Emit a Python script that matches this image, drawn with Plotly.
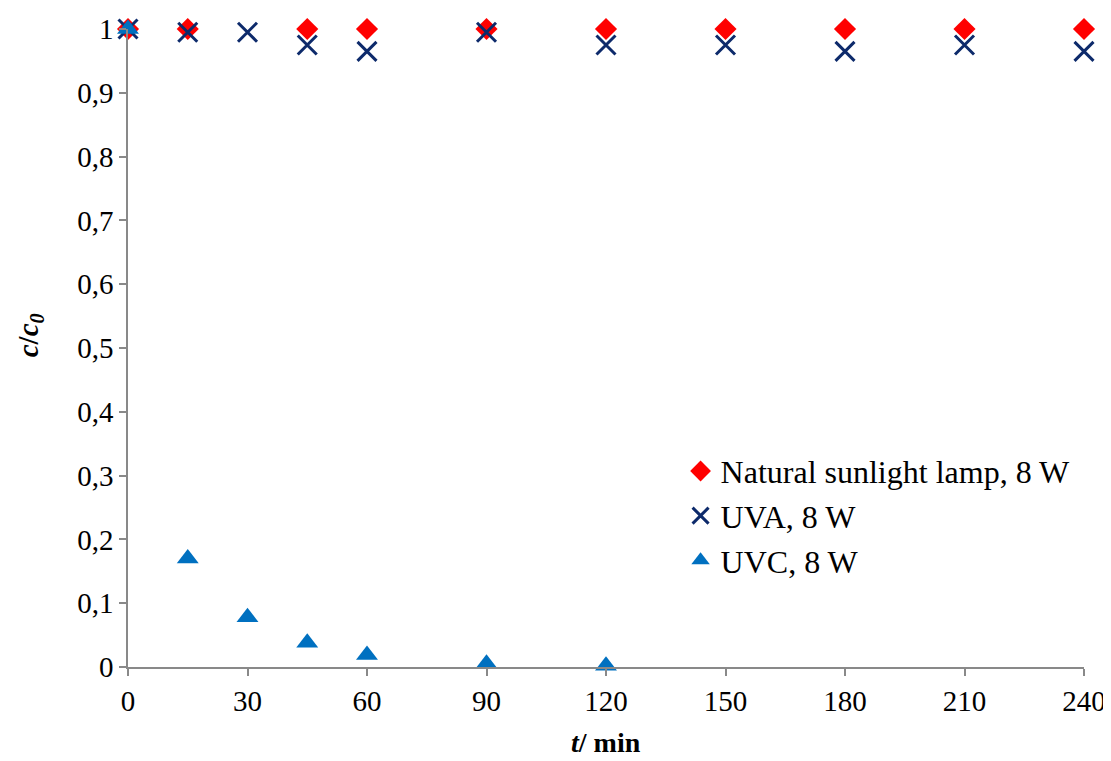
import plotly.graph_objects as go

t_nat = [0, 15, 45, 60, 90, 120, 150, 180, 210, 240]
c_nat = [1.0, 1.0, 1.0, 1.0, 1.0, 1.0, 1.0, 1.0, 1.0, 1.0]

t_uva = [0, 15, 30, 45, 60, 90, 120, 150, 180, 210, 240]
c_uva = [1.0, 0.995, 0.995, 0.975, 0.965, 0.995, 0.975, 0.975, 0.965, 0.975, 0.965]

t_uvc = [0, 15, 30, 45, 60, 90, 120]
c_uvc = [1.0, 0.17, 0.078, 0.038, 0.019, 0.005, 0.002]

x_ticks = [0, 30, 60, 90, 120, 150, 180, 210, 240]

FONT = "Liberation Serif, Times New Roman, serif"

fig = go.Figure()
fig.add_trace(go.Scatter(x=t_nat, y=c_nat, mode="markers", name="Natural sunlight lamp, 8 W",
                         legendgroup="a", cliponaxis=False,
                         marker=dict(symbol="diamond", size=17, color="#ff0000")))
fig.add_trace(go.Scatter(x=t_uva, y=c_uva, mode="markers", name="UVA, 8 W",
                         legendgroup="b", cliponaxis=False,
                         marker=dict(symbol="x-thin", size=19, color="#0d2a6b",
                                     line=dict(width=3, color="#0d2a6b"))))
fig.add_trace(go.Scatter(x=t_uvc, y=c_uvc, mode="markers", name="UVC, 8 W",
                         legendgroup="c", cliponaxis=False,
                         marker=dict(symbol="triangle-up", size=19, color="#0070c0")))

axis_common = dict(showgrid=False, zeroline=False, automargin=False,
                   showline=True, linecolor="#898989", linewidth=1.5,
                   ticks="outside", ticklen=7, tickcolor="#898989", tickwidth=1.5,
                   tickfont=dict(family=FONT, size=29, color="black"))

fig.update_layout(
    width=1103, height=753,
    margin=dict(l=120, r=27, t=21, b=94),
    paper_bgcolor="white", plot_bgcolor="white",
    separators=", ",
    font=dict(family=FONT, size=29, color="black"),
    showlegend=True,
    legend=dict(x=0.578, y=0.35, xanchor="left", yanchor="top",
                font=dict(family=FONT, size=32, color="black"), bgcolor="rgba(0,0,0,0)",
                itemsizing="trace", tracegroupgap=0),
    xaxis=dict(range=[0, 240], tickvals=x_ticks, **axis_common),
    yaxis=dict(range=[0, 1], dtick=0.1, tick0=0, **axis_common),
    annotations=[
        dict(text="<b><i>t</i>/ min</b>", xref="paper", yref="paper",
             x=0.5, y=-0.118, xanchor="center", yanchor="middle", showarrow=False,
             font=dict(family=FONT, size=28, color="black")),
        dict(text="<b><i>c</i>/<i>c</i><sub><i>0</i></sub></b>", xref="paper", yref="paper",
             x=-0.1025, y=0.52, xanchor="center", yanchor="middle", showarrow=False,
             textangle=-90, font=dict(family=FONT, size=29, color="black")),
    ],
)

fig.write_html("out.html")
